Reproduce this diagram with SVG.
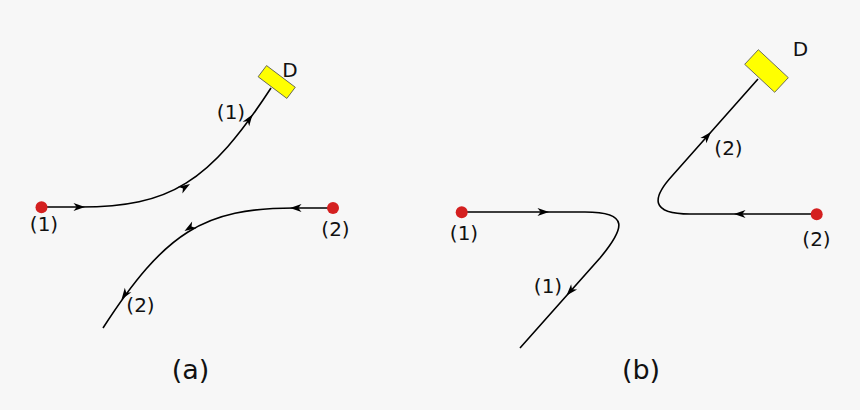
<svg xmlns="http://www.w3.org/2000/svg" xmlns:xlink="http://www.w3.org/1999/xlink" width="860" height="410" viewBox="0 0 860 410">
<style>
.bg{fill:#f7f7f7}
.path{fill:none;stroke:#000;stroke-width:1.6}
.src{fill:#d42020}
.det{fill:#ffff00;stroke:#555;stroke-width:0.8}
.lbl{font-family:"DejaVu Sans",sans-serif;font-size:20px;fill:#111;text-anchor:middle}
.cap{font-family:"DejaVu Sans",sans-serif;font-size:27px;fill:#111;text-anchor:middle}
.ah{fill:#000}
</style>
<defs>
<path id="ah" class="ah" d="M0,0 L-11.5,-4 L-8.3,0 L-11.5,4 Z"/>
</defs>
<rect class="bg" x="0" y="0" width="860" height="410"/>
<g id="connectors">
<path class="path" d="M41,207 H80 C170,207 209,183 271,88"/>
<path class="path" d="M333,208 H294 C204,208 165,232 103,328"/>
<path class="path" d="M462,212 H585 C630,212 625,228 600,258 L520,348"/>
<path class="path" d="M817,214 H690 C650,214 652,198 672,176 L758,79"/>
<use xlink:href="#ah" transform="translate(85,207)"/>
<use xlink:href="#ah" transform="translate(190,184) rotate(-32)"/>
<use xlink:href="#ah" transform="translate(252.5,114.5) rotate(-55)"/>
<use xlink:href="#ah" transform="translate(290,208) rotate(180)"/>
<use xlink:href="#ah" transform="translate(184.5,231) rotate(148)"/>
<use xlink:href="#ah" transform="translate(121.5,299.5) rotate(125)"/>
<use xlink:href="#ah" transform="translate(549,212)"/>
<use xlink:href="#ah" transform="translate(566.5,295.5) rotate(131.6)"/>
<use xlink:href="#ah" transform="translate(734,214) rotate(180)"/>
<use xlink:href="#ah" transform="translate(711,132) rotate(-48.4)"/>
</g>
<g id="a-source1">
<circle class="src" cx="41.5" cy="207.3" r="6"/>
<text class="lbl" x="44" y="231">(1)</text>
</g>
<g id="a-source2">
<circle class="src" cx="333" cy="208" r="6"/>
<text class="lbl" x="335.5" y="235.5">(2)</text>
</g>
<g id="a-detector">
<rect class="det" x="-18" y="-7" width="36" height="14" transform="translate(276.7,82) rotate(37)"/>
<text class="lbl" x="290" y="76.5">D</text>
</g>
<text class="lbl" x="231" y="118.5">(1)</text>
<text class="lbl" x="140.5" y="311.5">(2)</text>
<text class="cap" x="190.5" y="378.5">(a)</text>
<g id="b-source1">
<circle class="src" cx="461.7" cy="212.3" r="6"/>
<text class="lbl" x="464" y="239.5">(1)</text>
</g>
<g id="b-source2">
<circle class="src" cx="816.7" cy="214.3" r="6"/>
<text class="lbl" x="816.5" y="246">(2)</text>
</g>
<g id="b-detector">
<rect class="det" x="-20.5" y="-10" width="41" height="20" transform="translate(766.5,71) rotate(43)"/>
<text class="lbl" x="800.5" y="56">D</text>
</g>
<text class="lbl" x="548" y="293">(1)</text>
<text class="lbl" x="728.5" y="154.5">(2)</text>
<text class="cap" x="641" y="378.5">(b)</text>
</svg>
